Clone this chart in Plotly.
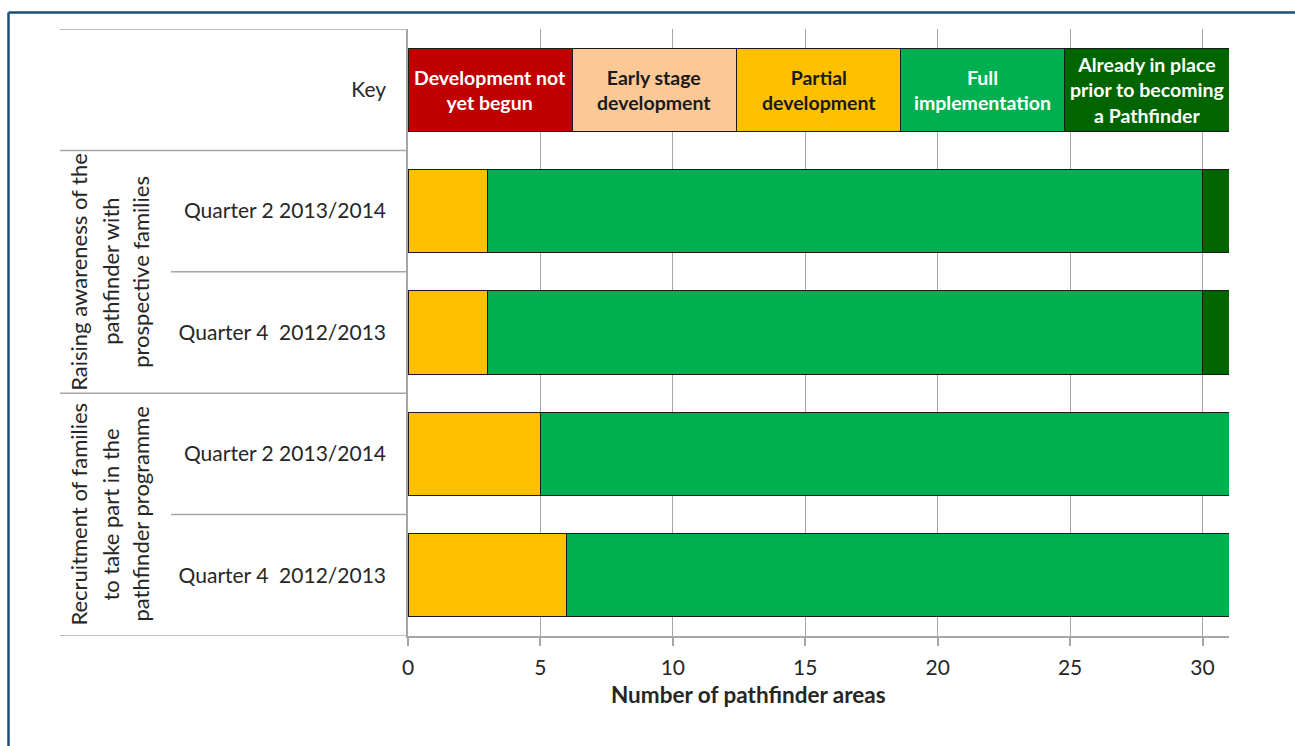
import plotly.graph_objects as go

# ---------------- data ----------------
row_labels = ["Key", "Quarter 2 2013/2014", "Quarter 4  2012/2013",
              "Quarter 2 2013/2014", "Quarter 4  2012/2013"]
group_lines_1 = ["Raising awareness of the", "pathfinder with", "prospective families"]
group_lines_2 = ["Recruitment of families", "to take part in the", "pathfinder programme"]

series_names = ["Development not<br>yet begun", "Early stage<br>development",
                "Partial<br>development", "Full<br>implementation",
                "Already in place<br>prior to becoming<br>a Pathfinder"]
series_colors = ["#C00000", "#FCC996", "#FFC000", "#00B050", "#006400"]
key_text_colors = ["white", "#1a1a1a", "#1a1a1a", "white", "white"]
key_values = [6.2, 6.2, 6.2, 6.2, 6.2]

not_begun = [0, 0, 0, 0]
early_stage = [0, 0, 0, 0]
partial = [3, 3, 5, 6]
full_impl = [27, 27, 26, 25]
already = [1, 1, 0, 0]
series_values = [not_begun, early_stage, partial, full_impl, already]

x_ticks = [0, 5, 10, 15, 20, 25, 30]
x_title = "Number of pathfinder areas"

# ---------------- layout geometry ----------------
W, H = 1295, 746
L, R, T, B = 408, 1229, 29, 636
FONT = "Lato"
TXT = "#262626"
GRID = "#A6A6A6"

def px_x(px):
    return (px - L) / (R - L)

def px_y(py):
    return (B - py) / (B - T)

ypos = [4, 3, 2, 1, 0]

fig = go.Figure()
for i, name in enumerate(series_names):
    vals = [key_values[i]] + series_values[i]
    vals = [v if v else None for v in vals]
    fig.add_trace(go.Bar(
        x=vals, y=ypos, orientation="h", name=name,
        marker=dict(color=series_colors[i], line=dict(color="#1a1a1a", width=1)),
        hoverinfo="x+name", showlegend=False,
    ))

annotations = []
# key labels centred on their key segments
cum = 0
for i, name in enumerate(series_names):
    c = cum + key_values[i] / 2
    cum += key_values[i]
    annotations.append(dict(
        x=c, y=ypos[0], xref="x", yref="y", text="<b>" + name + "</b>",
        showarrow=False, font=dict(family=FONT, size=19.5, color=key_text_colors[i]),
        align="center", xanchor="center", yanchor="middle",
    ))

# rotated group labels
for lines, yc in [(group_lines_1, 2.5), (group_lines_2, 0.5)]:
    for j, (ln, xp) in enumerate(zip(lines, [79, 111, 141])):
        annotations.append(dict(
            x=px_x(xp), y=yc, xref="paper", yref="y", text=ln, textangle=-90,
            showarrow=False, font=dict(family=FONT, size=22, color=TXT),
            xanchor="center", yanchor="middle",
        ))

# x axis title
annotations.append(dict(
    x=px_x(748), y=px_y(695), xref="paper", yref="paper",
    text="<b>" + x_title + "</b>", showarrow=False,
    font=dict(family=FONT, size=22.5, color=TXT), xanchor="center", yanchor="middle",
))

shapes = []
# category boundary lines
for yb, xstart in [(4.5, 60), (3.5, 60), (2.5, 171), (1.5, 60), (0.5, 171), (-0.5, 60)]:
    shapes.append(dict(type="line", xref="paper", yref="y", x0=px_x(xstart), x1=0,
                       y0=yb, y1=yb, line=dict(color=GRID, width=1.5), layer="below"))
# outer frame
shapes.append(dict(type="line", xref="paper", yref="paper", x0=px_x(8.5), x1=px_x(1400),
                   y0=px_y(12.5), y1=px_y(12.5), line=dict(color="#1B4F7A", width=2.5)))
shapes.append(dict(type="line", xref="paper", yref="paper", x0=px_x(8.5), x1=px_x(8.5),
                   y0=px_y(12.5), y1=px_y(800), line=dict(color="#1B4F7A", width=2.5)))

fig.update_layout(
    width=W, height=H, autosize=False,
    margin=dict(l=L, r=W - R, t=T, b=H - B, pad=0),
    barmode="stack", bargap=0.316,
    paper_bgcolor="white", plot_bgcolor="white",
    font=dict(family=FONT, size=21, color=TXT),
    xaxis=dict(range=[0, 31], tickvals=x_ticks, showgrid=True, gridcolor=GRID, gridwidth=1,
               zeroline=False, showline=True, linecolor=GRID, linewidth=1.5,
               ticks="outside", ticklen=8, tickcolor=GRID, tickwidth=1.5,
               ticklabelstandoff=4,
               tickfont=dict(family=FONT, size=21, color=TXT), fixedrange=True),
    yaxis=dict(range=[-0.5, 4.5], tickvals=ypos, ticktext=row_labels, showgrid=False,
               zeroline=False, showline=True, linecolor=GRID, linewidth=1.5,
               ticks="", ticklabelstandoff=16,
               tickfont=dict(family=FONT, size=21, color=TXT), fixedrange=True),
    annotations=annotations, shapes=shapes,
)

fig.write_html("out.html", post_script="document.body.style.margin='0';",
               config={"displayModeBar": False})
